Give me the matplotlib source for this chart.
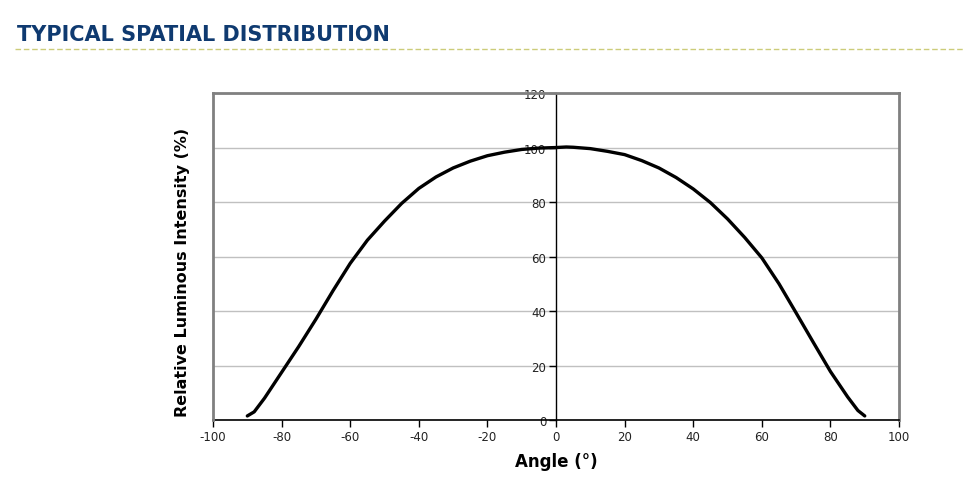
import numpy as np
import matplotlib
matplotlib.use('Agg')
import matplotlib.pyplot as plt

plt.rcParams['font.family'] = ['DejaVu Sans']
plt.rcParams['axes.unicode_minus'] = False

# Relative luminous intensity vs angle
angle = [-90, -88, -85, -80, -75, -70, -65, -60, -55, -50, -45, -40, -35, -30,
         -25, -20, -15, -10, -5, 0, 3, 5, 10, 15, 20, 25, 30, 35, 40, 45, 50,
         55, 60, 65, 70, 75, 80, 85, 88, 90]
intensity = [1.5, 3, 8, 17.5, 27, 37, 47.5, 57.5, 66, 73, 79.5, 85, 89.2, 92.5,
             95, 97, 98.3, 99.3, 99.8, 100, 100.2, 100.1, 99.6, 98.6, 97.4, 95.2, 92.5, 89, 84.8, 79.8, 73.8,
             67, 59.5, 50, 39.3, 28.5, 17.8, 8.5, 3.5, 1.5]
xticks = list(range(-100, 101, 20))
yticks = list(range(0, 121, 20))

title_color = '#0f3a70'
frame_gray = '#808080'

fig = plt.figure(figsize=(9.63, 4.89), dpi=100)
ax = fig.add_axes([0.2212, 0.139, 0.7124, 0.6687])

ax.plot(angle, intensity, color='black', lw=2.4, solid_capstyle='round',
        solid_joinstyle='round', zorder=3)

ax.set_xlim(-100, 100)
ax.set_ylim(0, 120)
ax.set_xticks(xticks)
ax.set_yticks(yticks)
ax.grid(axis='y', color='#c0c0c0', lw=1)
ax.set_axisbelow(True)

# y axis crosses at x = 0, frame kept gray
ax.spines['left'].set_position(('data', 0))
ax.spines['left'].set_color('black')
ax.spines['left'].set_linewidth(1)
ax.spines['bottom'].set_color('black')
ax.spines['bottom'].set_linewidth(1.2)
for s in ['top', 'right']:
   ax.spines[s].set_color(frame_gray)
   ax.spines[s].set_linewidth(2)
ax.plot([0, 0], [0, 1], transform=ax.transAxes, color=frame_gray, lw=2, clip_on=False, zorder=4)

ax.tick_params(axis='both', direction='out', length=5, width=1, color='black',
               labelsize=8.5, labelcolor='#222222', pad=2)

ax.set_xlabel('Angle (°)', fontsize=12, fontweight='bold', labelpad=7)
ax.set_ylabel('Relative Luminous Intensity (%)', fontsize=11.5, fontweight='bold')
ax.yaxis.set_label_coords(-0.034, 0.455)

# Section header
fig.text(17 / 963, 1 - 35 / 489, 'TYPICAL SPATIAL DISTRIBUTION', fontsize=15,
         fontweight='bold', color=title_color, va='center', ha='left')
fig.add_artist(plt.Line2D([15 / 963, 1], [1 - 50 / 489] * 2, transform=fig.transFigure,
                          color='#cccc7a', lw=1, ls=(0, (4, 2))))

fig.savefig('out.png', dpi=100)
